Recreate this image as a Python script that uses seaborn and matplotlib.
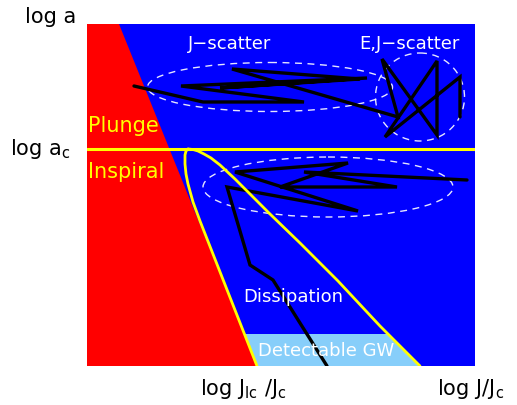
import numpy as np
import matplotlib
matplotlib.use('Agg')
import matplotlib.pyplot as plt
import seaborn as sns
from matplotlib.patches import Ellipse

# frame in pixel-like units (x to the right, y downwards)
X_MIN, X_MAX = 87, 475
Y_TOP, Y_BOT = 25, 367
A_C = 150          # log a_c level
GW_Y = 335         # top of the detectable GW band

# plunge boundary
PLUNGE_X = [119, 257]
PLUNGE_Y = [25, 367]

# dissipation loop (left branch runs into the plunge line)
LOOP_LEFT_X = [188, 186, 185, 185, 186, 188, 193, 200, 257]
LOOP_LEFT_Y = [150, 152, 156, 165, 175, 185, 203, 222, 367]
LOOP_RIGHT_X = [188, 193, 198, 204, 211, 220, 235, 250, 270, 300, 338, 380, 420]
LOOP_RIGHT_Y = [150, 150.5, 152, 155, 159, 166, 180, 195, 215, 244, 282, 327, 367]

# random walk above a_c (J-scatter then E,J-scatter)
UPPER_X = [134, 203, 304, 181, 367, 220, 360, 232, 398, 382, 437, 437, 385, 460, 460]
UPPER_Y = [87, 103, 103, 87, 79, 89, 80, 70, 118, 60, 136, 62, 138, 78, 118]
# random walk below a_c, then dissipation track
LOWER_X = [467, 304, 397, 280, 348, 235, 358, 227, 250, 273, 327]
LOWER_Y = [181, 173, 188, 188, 164, 173, 212, 188, 266, 281, 367]

# dashed ellipses
ELL_X = [270, 420, 328]
ELL_Y = [88, 98, 188]
ELL_W = [245, 89, 250]
ELL_H = [49, 88, 60]

BLUE, RED, YELLOW, LIGHT = '#0000ff', '#ff0000', '#ffff00', '#87cefa'

sns.set_theme(style='white')
plt.rcParams['font.family'] = ['DejaVu Sans']
plt.rcParams['mathtext.default'] = 'regular'

fig = plt.figure(figsize=(5.17, 4.06), dpi=100)
ax = fig.add_axes([X_MIN / 517, (406 - Y_BOT) / 406, (X_MAX - X_MIN) / 517, (Y_BOT - Y_TOP) / 406])

# regions
ax.fill([X_MIN, X_MAX, X_MAX, X_MIN], [Y_TOP, Y_TOP, Y_BOT, Y_BOT], color=BLUE, lw=0)
ax.fill([X_MIN, PLUNGE_X[0], PLUNGE_X[1], X_MIN], [Y_TOP, Y_TOP, Y_BOT, Y_BOT], color=RED, lw=0)
gw_left = np.interp(GW_Y, PLUNGE_Y, PLUNGE_X)
gw_right = np.interp(GW_Y, LOOP_RIGHT_Y, LOOP_RIGHT_X)
ax.fill([gw_left, gw_right, LOOP_RIGHT_X[-1], PLUNGE_X[1]], [GW_Y, GW_Y, Y_BOT, Y_BOT], color=LIGHT, lw=0)

for cx, cy, w, h in zip(ELL_X, ELL_Y, ELL_W, ELL_H):
    ax.add_patch(Ellipse((cx, cy), w, h, fill=False, ec='white', lw=1.0, ls=(0, (5, 4)), alpha=0.9))

# tracks
for xs, ys in [(UPPER_X, UPPER_Y), (LOWER_X, LOWER_Y)]:
    sns.lineplot(x=xs, y=ys, sort=False, estimator=None, color='black', linewidth=2.4,
                 solid_joinstyle='miter', ax=ax)

# yellow boundaries
sns.lineplot(x=[X_MIN, X_MAX], y=[A_C, A_C], color=YELLOW, linewidth=2.2, ax=ax)
for xs, ys in [(LOOP_LEFT_X, LOOP_LEFT_Y), (LOOP_RIGHT_X, LOOP_RIGHT_Y)]:
    sns.lineplot(x=xs, y=ys, sort=False, estimator=None, color=YELLOW, linewidth=2.0,
                 solid_joinstyle='round', ax=ax)

ax.set_xlim(X_MIN, X_MAX)
ax.set_ylim(Y_BOT, Y_TOP)
ax.set_xticks([])
ax.set_yticks([])
ax.set_xlabel('')
ax.set_ylabel('')
for s in ax.spines.values():
    s.set_visible(False)

# labels
ax.text(188, 48.5, 'J\u2212scatter', color='white', fontsize=13, va='baseline')
ax.text(359, 48.5, 'E,J\u2212scatter', color='white', fontsize=13, va='baseline')
ax.text(88, 132, 'Plunge', color=YELLOW, fontsize=15, va='baseline')
ax.text(88, 178, 'Inspiral', color=YELLOW, fontsize=15, va='baseline')
ax.text(243, 301.5, 'Dissipation', color='white', fontsize=13, va='baseline')
ax.text(258, 356.5, 'Detectable GW', color='white', fontsize=13, va='baseline')

ax.text(25, 23, 'log a', color='black', fontsize=15, va='baseline', clip_on=False)
ax.text(10, 155, 'log a$_{c}$', color='black', fontsize=15, va='baseline', clip_on=False)
ax.text(200, 395, 'log J$_{lc}$ /J$_{c}$', color='black', fontsize=15, va='baseline', clip_on=False)
ax.text(437, 395, 'log J/J$_{c}$', color='black', fontsize=15, va='baseline', clip_on=False)

fig.savefig('out.png', dpi=100)
